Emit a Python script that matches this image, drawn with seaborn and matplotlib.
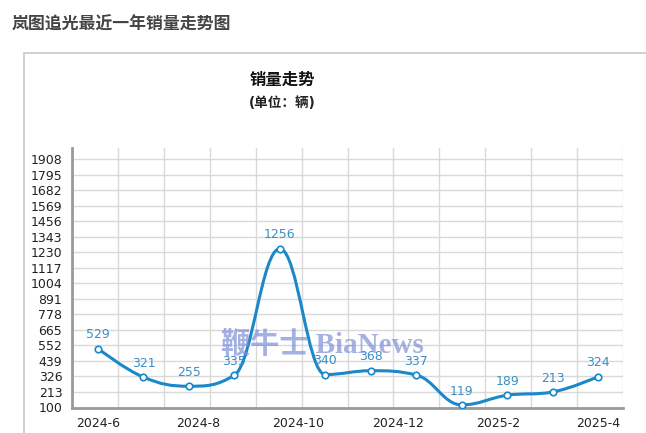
import numpy as np
import pandas as pd
import matplotlib
matplotlib.use('Agg')
import matplotlib.pyplot as plt
from matplotlib.path import Path
from matplotlib.patches import PathPatch, Rectangle
import seaborn as sns

# data: monthly sales (辆)
sales = [529, 321, 255, 335, 1256, 340, 368, 337, 119, 189, 213, 324]
tick_labels = ['2024-6', '2024-8', '2024-10', '2024-12', '2025-2', '2025-4']
y_ticks = [100, 213, 326, 439, 552, 665, 778, 891, 1004, 1117, 1230,
           1343, 1456, 1569, 1682, 1795, 1908]

page_title = '岚图追光最近一年销量走势图'
chart_title = '销量走势'
chart_sub = '(单位：辆)'
watermark = '鞭牛士 BiaNews'

LINE = '#1a88c9'
LABEL = '#3b8ec6'

sns.set_theme(style='white')
plt.rcParams['font.family'] = ['DejaVu Sans', 'Noto Sans CJK SC']

df = pd.DataFrame({'idx': np.arange(len(sales)), 'sales': sales})


def spline_path(xs, ys, smoothing=1.5):
    # Bezier control points through each point, no false extremes
    n = len(xs)
    denom = smoothing + 1
    lc = [None] * n
    rc = [None] * n
    for i in range(1, n - 1):
        px, py = xs[i], ys[i]
        lx, ly = xs[i - 1], ys[i - 1]
        nx, ny = xs[i + 1], ys[i + 1]
        lcx = (smoothing * px + lx) / denom
        lcy = (smoothing * py + ly) / denom
        rcx = (smoothing * px + nx) / denom
        rcy = (smoothing * py + ny) / denom
        corr = (rcy - lcy) * (rcx - px) / (rcx - lcx) + py - rcy
        lcy += corr
        rcy += corr
        if lcy > ly and lcy > py:
            lcy = max(ly, py); rcy = 2 * py - lcy
        elif lcy < ly and lcy < py:
            lcy = min(ly, py); rcy = 2 * py - lcy
        if rcy > ny and rcy > py:
            rcy = max(ny, py); lcy = 2 * py - rcy
        elif rcy < ny and rcy < py:
            rcy = min(ny, py); lcy = 2 * py - rcy
        lc[i] = (lcx, lcy)
        rc[i] = (rcx, rcy)
    verts = [(xs[0], ys[0])]
    codes = [Path.MOVETO]
    for i in range(1, n):
        c1 = rc[i - 1] if rc[i - 1] else (xs[i - 1], ys[i - 1])
        c2 = lc[i] if lc[i] else (xs[i], ys[i])
        verts += [c1, c2, (xs[i], ys[i])]
        codes += [Path.CURVE4] * 3
    return Path(verts, codes)


fig = plt.figure(figsize=(6.46, 4.33), dpi=100)
W, H = 646, 433

# page title + panel frame
fig.text(12 / W, 1 - 25 / H, page_title, fontsize=12.2, fontweight='bold',
         color='#444444', va='center', ha='left')
fig.patches.append(Rectangle((24 / W, -0.05), 1.0, 1 - 53 / H + 0.05,
                             transform=fig.transFigure, fill=False,
                             edgecolor='#c8c8c8', linewidth=1.2))
fig.text(282 / W, 1 - 80 / H, chart_title, fontsize=11.8, fontweight='bold',
         color='#111111', ha='center', va='center')
fig.text(282 / W, 1 - 103 / H, chart_sub, fontsize=9.8, fontweight='bold',
         color='#222222', ha='center', va='center')

ax = fig.add_axes([72 / W, 1 - 407.5 / H, (623 - 72) / W, (407.5 - 148) / H])
xmin, xmax = -0.572, 11.55
ax.set_xlim(xmin, xmax)
ax.set_ylim(100, 1990)

# grid
ax.set_yticks(y_ticks)
ax.set_xticks(np.linspace(0, len(sales) - 1, len(tick_labels)))
ax.set_xticklabels(tick_labels)
ax.set_xticks(np.linspace(xmin, xmax, 13), minor=True)
ax.grid(True, which='minor', axis='x', color='#d9d9d9', linewidth=1)
ax.grid(True, which='major', axis='y', color='#d9d9d9', linewidth=1)
ax.grid(False, which='major', axis='x')
ax.tick_params(axis='x', which='minor', length=0)
ax.tick_params(axis='both', which='major', labelsize=9, colors='#222222',
               length=4, width=1, color='#999999', pad=3)
ax.tick_params(axis='x', which='major', length=5, pad=2)

for side in ['top', 'right']:
    ax.spines[side].set_visible(False)
for side in ['left', 'bottom']:
    ax.spines[side].set_color('#999999')
    ax.spines[side].set_linewidth(2)

# smooth line
ax.add_patch(PathPatch(spline_path(df['idx'].tolist(), df['sales'].tolist()),
                       fill=False, edgecolor=LINE, linewidth=2.2,
                       capstyle='round', joinstyle='round', zorder=3))
sns.scatterplot(data=df, x='idx', y='sales', ax=ax, s=22, color='white',
                edgecolor=LINE, linewidth=1.2, zorder=4, legend=False)

for x, v in zip(df['idx'], df['sales']):
    ax.annotate(str(v), (x, v), xytext=(0, 10), textcoords='offset points',
                ha='center', va='center', fontsize=9, color=LABEL, zorder=5)

ax.set_xlabel('')
ax.set_ylabel('')

fig.text(322 / W, 1 - 345 / H, watermark, fontsize=21,
         family=['Liberation Serif', 'Noto Sans CJK SC'], fontweight='semibold',
         color='#7f90d6', alpha=0.7, ha='center', va='center', zorder=10)

fig.savefig('out.png', dpi=100)
